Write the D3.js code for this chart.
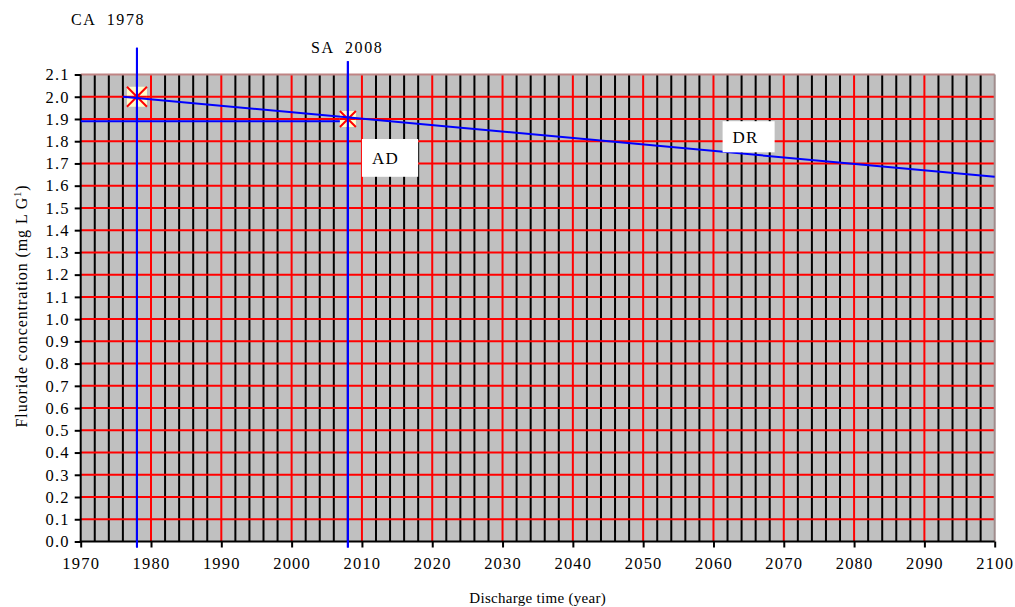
<!DOCTYPE html>
<html>
<head>
<meta charset="utf-8">
<script src="https://cdn.jsdelivr.net/npm/d3@7"></script>
<style>
  body { margin: 0; background: #fff; }
  svg text { font-family: "Liberation Serif", "Times New Roman", serif !important; fill: #000; }
</style>
</head>
<body>
<svg id="chart" width="1015" height="607"></svg>
<script>
// x axis (years) and y axis (mg/L) ticks
const yearTicks = d3.range(1970, 2101, 10);
const minorYears = d3.range(1972, 2100, 2).filter(d => d % 10 !== 0);
const concTicks = d3.range(0, 22).map(i => +(i / 10).toFixed(1));

// decline line (DR) and the actual-data level (AD)
const drYears = [1976, 2100];
const drValues = [2.0, 1.64];
const adYears = [1970, 2008];
const adValues = [1.89, 1.89];

// marker points: CA 1978 and SA 2008
const markYears = [1978, 2008];
const markValues = [2.0, 1.9];
const markSizes = [20, 16];

// vertical reference lines
const refYears = [1978, 2008];
const refTops = [2.22, 2.16];
const refLabels = ["CA  1978", "SA  2008"];

// labelled boxes
const boxLabels = ["AD", "DR"];
const boxX0 = [2010, 2061.3];
const boxX1 = [2018, 2068.7];
const boxY0 = [1.64, 1.75];
const boxY1 = [1.81, 1.89];

const serif = "'Liberation Serif', 'Times New Roman', serif";
const svg = d3.select("#chart");

const x = d3.scaleLinear().domain([1970, 2100]).range([80.7, 994.7]);
const y = d3.scaleLinear().domain([0, 2.1]).range([541.5, 74.5]);

// plot background
svg.append("rect")
  .attr("x", x(1970)).attr("y", y(2.1))
  .attr("width", x(2100) - x(1970)).attr("height", y(0) - y(2.1))
  .attr("fill", "#c0c0c0");

// black minor verticals every 2 years
svg.append("g").selectAll("line")
  .data(minorYears)
  .enter().append("line")
  .attr("x1", d => x(d)).attr("x2", d => x(d))
  .attr("y1", y(2.1)).attr("y2", y(0))
  .attr("stroke", "#000").attr("stroke-width", 2);

// red horizontals every 0.1
svg.append("g").selectAll("line")
  .data(concTicks.filter(d => d > 0 && d < 2.1))
  .enter().append("line")
  .attr("x1", x(1970)).attr("x2", x(2100))
  .attr("y1", d => y(d)).attr("y2", d => y(d))
  .attr("stroke", "#ff0000").attr("stroke-width", 2);

// red verticals every 10 years
svg.append("g").selectAll("line")
  .data(yearTicks.filter(d => d > 1970 && d < 2100))
  .enter().append("line")
  .attr("x1", d => x(d)).attr("x2", d => x(d))
  .attr("y1", y(2.1)).attr("y2", y(0))
  .attr("stroke", "#ff0000").attr("stroke-width", 2);

// top & right border
svg.append("line")
  .attr("x1", x(1970)).attr("x2", x(2100))
  .attr("y1", y(2.1)).attr("y2", y(2.1))
  .attr("stroke", "#c08484").attr("stroke-width", 2);
svg.append("line")
  .attr("x1", x(2100)).attr("x2", x(2100))
  .attr("y1", y(2.1)).attr("y2", y(0))
  .attr("stroke", "#a08c8c").attr("stroke-width", 2);

// axes
const xAxis = svg.append("g")
  .attr("transform", "translate(0," + y(0) + ")")
  .call(d3.axisBottom(x).tickValues(yearTicks).tickFormat(d3.format("d")).tickSize(6).tickSizeOuter(0));
const yAxis = svg.append("g")
  .attr("transform", "translate(" + x(1970) + ",0)")
  .call(d3.axisLeft(y).tickValues(concTicks).tickFormat(d3.format(".1f")).tickSize(6).tickSizeOuter(0));

[xAxis, yAxis].forEach(g => {
  g.attr("font-family", null).attr("font-size", null);
  g.select(".domain").attr("stroke", "#000").attr("stroke-width", 2);
  g.selectAll(".tick line").attr("stroke", "#000").attr("stroke-width", 2);
  g.selectAll(".tick text")
    .style("font-family", serif)
    .style("font-size", "16.5px")
    .style("letter-spacing", "1.2px");
});
xAxis.selectAll(".tick text").attr("y", 16);
yAxis.selectAll(".tick text").attr("x", -11);
yAxis.select(".domain").attr("d", "M0," + y(2.1) + "V" + (y(0) + 1));
xAxis.select(".domain").attr("d", "M" + (x(1970) - 1) + ",0H" + x(2100));

// vertical reference lines
svg.append("g").selectAll("line")
  .data(refYears)
  .enter().append("line")
  .attr("x1", d => x(d)).attr("x2", d => x(d))
  .attr("y1", (d, i) => y(refTops[i])).attr("y2", y(0) + 6)
  .attr("stroke", "#0000ff").attr("stroke-width", 2);

// AD horizontal level
svg.append("path")
  .datum(adYears.map((d, i) => [d, adValues[i]]))
  .attr("d", d3.line().x(d => x(d[0])).y(d => y(d[1])))
  .attr("stroke", "#0000ff").attr("stroke-width", 2).attr("fill", "none");

// markers
const marks = svg.append("g").selectAll("g")
  .data(markYears.map((d, i) => ({ yr: d, v: markValues[i], s: markSizes[i] })))
  .enter().append("g")
  .attr("transform", d => "translate(" + x(d.yr) + "," + y(d.v) + ")");
marks.append("rect")
  .attr("x", d => -d.s / 2).attr("y", d => -d.s / 2)
  .attr("width", d => d.s).attr("height", d => d.s)
  .attr("fill", "#ffffcc");
marks.append("path")
  .attr("d", d => {
    const h = d.s / 2;
    return "M" + (-h) + "," + (-h) + "L" + h + "," + h +
      "M" + (-h) + "," + h + "L" + h + "," + (-h) +
      "M0," + (-h) + "V" + h + "M" + (-h) + ",0H" + h;
  })
  .attr("stroke", "#ff0000").attr("stroke-width", 2);

// blue verticals drawn over the markers
svg.append("g").selectAll("line")
  .data(refYears)
  .enter().append("line")
  .attr("x1", d => x(d)).attr("x2", d => x(d))
  .attr("y1", (d, i) => y(refTops[i])).attr("y2", y(0) + 6)
  .attr("stroke", "#0000ff").attr("stroke-width", 2);

// DR decline line
svg.append("path")
  .datum(drYears.map((d, i) => [d, drValues[i]]))
  .attr("d", d3.line().x(d => x(d[0])).y(d => y(d[1])))
  .attr("stroke", "#0000ff").attr("stroke-width", 2).attr("fill", "none");

// reference labels
svg.append("g").selectAll("text")
  .data(refLabels)
  .enter().append("text")
  .attr("x", (d, i) => i === 0 ? 71 : 311)
  .attr("y", (d, i) => i === 0 ? 25 : 53)
  .style("font-family", serif)
  .style("font-size", "16px")
  .style("letter-spacing", "1.6px")
  .style("white-space", "pre")
  .text(d => d);

// boxes
const boxes = svg.append("g").selectAll("g")
  .data(boxLabels.map((d, i) => ({ t: d, x0: boxX0[i], x1: boxX1[i], y0: boxY0[i], y1: boxY1[i] })))
  .enter().append("g");
boxes.append("rect")
  .attr("x", d => x(d.x0)).attr("y", d => y(d.y1))
  .attr("width", d => x(d.x1) - x(d.x0)).attr("height", d => y(d.y0) - y(d.y1))
  .attr("fill", "#fff");
boxes.append("text")
  .attr("x", d => x(d.x0) + 10)
  .attr("y", d => (y(d.y0) + y(d.y1)) / 2 + 6)
  .style("font-family", serif)
  .style("font-size", "17px")
  .style("letter-spacing", "1.2px")
  .text(d => d.t);

// axis titles
svg.append("text")
  .attr("x", (x(1970) + x(2100)) / 2)
  .attr("y", 603)
  .attr("text-anchor", "middle")
  .style("font-family", serif)
  .style("font-size", "15px")
  .style("letter-spacing", "0.3px")
  .text("Discharge time (year)");

const yt = svg.append("text")
  .attr("transform", "translate(27,306) rotate(-90)")
  .attr("text-anchor", "middle")
  .style("font-family", serif)
  .style("font-size", "16px")
  .style("letter-spacing", "0.9px");
yt.append("tspan").text("Fluoride concentration (mg L G");
yt.append("tspan").attr("dy", -6).style("font-size", "10px").text("1");
yt.append("tspan").attr("dy", 6).text(")");
</script>
</body>
</html>
